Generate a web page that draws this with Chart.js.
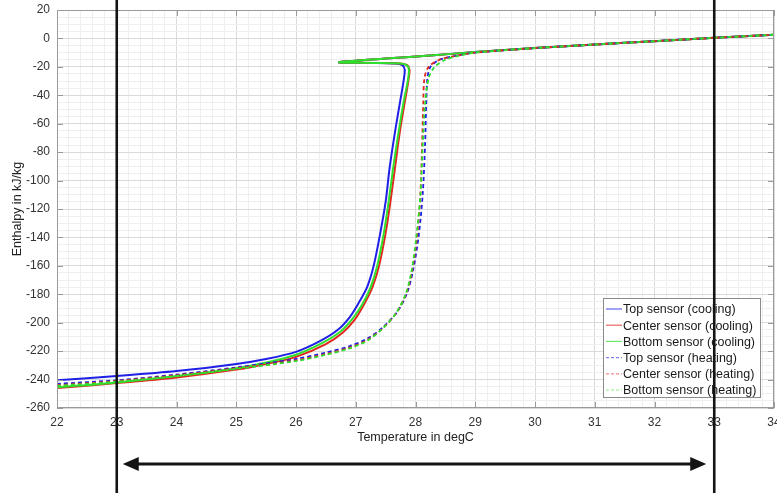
<!DOCTYPE html>
<html>
<head>
<meta charset="utf-8">
<script src="https://cdn.jsdelivr.net/npm/chart.js@4.4.1/dist/chart.umd.min.js"></script>
<style>
  html, body { margin: 0; padding: 0; background: #fff; }
</style>
</head>
<body>
<canvas id="c" width="777" height="493"></canvas>
<script>
/* Enthalpy vs temperature, cooling (solid) and heating (dashed) per sensor */
const xMajor = [22, 23, 24, 25, 26, 27, 28, 29, 30, 31, 32, 33, 34];
const yMajor = [20, 0, -20, -40, -60, -80, -100, -120, -140, -160, -180, -200, -220, -240, -260];
const markerTemps = [23, 33];

const coolTopT = [34, 33, 32, 31, 30, 29, 28.3, 27.5, 26.72, 27.2, 27.65, 27.78, 27.82, 27.8, 27.74, 27.66, 27.57, 27.5, 27.41, 27.3, 27.19, 27.05, 26.9, 26.7, 26.4, 26, 25.5, 25, 24, 23, 22];
const coolTopH = [2.6, 0.4, -1.9, -4.3, -6.8, -9.6, -11.8, -14.2, -16.8, -17.2, -17.6, -18.8, -22, -30, -45, -65, -90, -115, -137, -160, -175, -186, -196, -205, -213, -220.5, -225.5, -229, -234, -237.5, -240.5];

const coolCenterT = [34, 33, 32, 31, 30, 29, 28.3, 27.5, 26.72, 27.3, 27.75, 27.86, 27.9, 27.88, 27.82, 27.74, 27.66, 27.58, 27.5, 27.39, 27.28, 27.14, 26.98, 26.78, 26.5, 26, 25.5, 25, 24, 23, 22];
const coolCenterH = [2.6, 0.4, -1.9, -4.3, -6.8, -9.6, -11.8, -14.2, -16.8, -17.2, -17.6, -18.8, -22, -30, -45, -65, -90, -115, -137, -160, -175, -187, -198, -207, -215, -224, -229, -233, -238.5, -242.5, -246];

const coolBottomT = [34, 33, 32, 31, 30, 29, 28.3, 27.5, 26.72, 27.3, 27.75, 27.85, 27.89, 27.87, 27.8, 27.72, 27.63, 27.55, 27.47, 27.36, 27.25, 27.11, 26.95, 26.75, 26.45, 26, 25.5, 25, 24, 23, 22];
const coolBottomH = [2.6, 0.4, -1.9, -4.3, -6.8, -9.6, -11.8, -14.2, -16.8, -17.2, -17.6, -18.8, -22, -30, -45, -65, -90, -115, -137, -160, -175, -187, -197, -206, -214, -222.5, -228, -232, -237.5, -242, -245.5];

const heatTopT = [22, 23, 24, 25, 26, 26.5, 26.9, 27.2, 27.46, 27.7, 27.86, 27.96, 28.05, 28.12, 28.16, 28.18, 28.2, 28.25, 28.4, 28.65, 29, 30, 31, 32, 33, 34];
const heatTopH = [-243, -240.5, -236.5, -231.5, -225.5, -221, -216.5, -211, -203, -192, -179, -163, -140, -110, -75, -45, -28, -20, -15, -12.5, -10, -6.8, -4.3, -1.9, 0.4, 2.6];

const heatCenterT = [22, 23, 24, 25, 26, 26.5, 26.9, 27.2, 27.45, 27.68, 27.84, 27.94, 28.02, 28.08, 28.11, 28.13, 28.15, 28.22, 28.4, 28.65, 29, 30, 31, 32, 33, 34];
const heatCenterH = [-244, -241, -237, -232, -226.5, -222, -217.5, -212, -204, -193, -180, -164, -141, -111, -76, -46, -28, -20, -15, -12.5, -10, -6.8, -4.3, -1.9, 0.4, 2.6];

const heatBottomT = [22, 23, 24, 25, 26, 26.5, 26.9, 27.2, 27.44, 27.67, 27.83, 27.93, 28.01, 28.08, 28.12, 28.16, 28.22, 28.32, 28.5, 28.7, 29, 30, 31, 32, 33, 34];
const heatBottomH = [-244.5, -241.5, -237.5, -232.5, -227, -222.5, -218, -212.5, -204.5, -193.5, -180.5, -164.5, -141, -111, -76, -46, -28, -20, -15, -12.5, -10, -6.8, -4.3, -1.9, 0.4, 2.6];

const BLUE = '#1f1fe6', RED = '#e0281e', GREEN = '#2ee02e';

const toPoints = (T, H) => T.map((t, i) => ({ x: t, y: H[i] }));
const isMajor = (v, list) => list.some(m => Math.abs(m - v) < 1e-6);

// later entries drawn on top (Chart.js draws lowest order last)
function series(label, T, H, color, dashed, order) {
    return {
        label, data: toPoints(T, H), showLine: true, order,
        borderColor: color, backgroundColor: color,
        borderWidth: dashed ? 1.8 : 2, borderDash: dashed ? [4, 3] : [],
        pointRadius: 0, tension: 0.3, dashed
    };
}

const overlay = {
    id: 'overlay',
    afterDraw(chart) {
        const { ctx, chartArea: a, scales: { x, y } } = chart;
        const seg = (x1, y1, x2, y2) => { ctx.beginPath(); ctx.moveTo(x1, y1); ctx.lineTo(x2, y2); ctx.stroke(); };
        ctx.save();

        // axes box and inside tick marks
        ctx.strokeStyle = '#9a9a9a'; ctx.lineWidth = 1;
        ctx.strokeRect(a.left + 0.5, a.top + 0.5, a.right - a.left - 1, a.bottom - a.top - 1);
        xMajor.forEach(v => {
            const px = Math.round(x.getPixelForValue(v)) + 0.5;
            seg(px, a.bottom, px, a.bottom - 6); seg(px, a.top, px, a.top + 6);
        });
        yMajor.forEach(v => {
            const py = Math.round(y.getPixelForValue(v)) + 0.5;
            seg(a.left, py, a.left + 6, py); seg(a.right, py, a.right - 6, py);
        });

        // legend box, bottom right inside the axes
        const lw = 157, lh = 99;
        const lx = a.right - 14 - lw, ly = a.bottom - 11 - lh;
        ctx.fillStyle = '#fff';
        ctx.fillRect(lx, ly, lw, lh);
        ctx.strokeStyle = '#8a8a8a';
        ctx.strokeRect(lx + 0.5, ly + 0.5, lw, lh);
        ctx.font = '12.5px "Liberation Sans", Arial, sans-serif';
        ctx.textBaseline = 'middle';
        chart.data.datasets.forEach((ds, i) => {
            const ry = ly + 11 + i * 16.2;
            ctx.strokeStyle = ds.borderColor; ctx.lineWidth = 1.2;
            ctx.globalAlpha = ds.dashed ? 0.55 : 0.7;
            ctx.setLineDash(ds.dashed ? [3, 2] : []);
            seg(lx + 3, ry, lx + 19, ry);
            ctx.setLineDash([]); ctx.globalAlpha = 1;
            ctx.fillStyle = '#1a1a1a';
            ctx.fillText(ds.label, lx + 20, ry + 1);
        });

        // black marker lines at 23 and 33 degC with range arrow below
        const [xl, xr] = markerTemps.map(t => x.getPixelForValue(t));
        ctx.strokeStyle = '#141414'; ctx.fillStyle = '#141414'; ctx.lineWidth = 2.6;
        seg(xl, 0, xl, chart.height); seg(xr, 0, xr, chart.height);
        const ay = 464, l = xl + 6, r = xr - 8;
        ctx.lineWidth = 3;
        seg(l + 10, ay, r - 10, ay);
        ctx.beginPath(); ctx.moveTo(l, ay); ctx.lineTo(l + 16, ay - 7); ctx.lineTo(l + 16, ay + 7); ctx.closePath(); ctx.fill();
        ctx.beginPath(); ctx.moveTo(r, ay); ctx.lineTo(r - 16, ay - 7); ctx.lineTo(r - 16, ay + 7); ctx.closePath(); ctx.fill();
        ctx.restore();
    }
};

Chart.defaults.font.family = '"Liberation Sans", Arial, sans-serif';
Chart.defaults.font.size = 12;
Chart.defaults.color = '#333';

new Chart(document.getElementById('c'), {
    type: 'scatter',
    data: {
        datasets: [
            series('Top sensor (cooling)', coolTopT, coolTopH, BLUE, false, 5),
            series('Center sensor (cooling)', coolCenterT, coolCenterH, RED, false, 4),
            series('Bottom sensor (cooling)', coolBottomT, coolBottomH, GREEN, false, 3),
            series('Top sensor (heating)', heatTopT, heatTopH, BLUE, true, 2),
            series('Center sensor (heating)', heatCenterT, heatCenterH, RED, true, 1),
            series('Bottom sensor (heating)', heatBottomT, heatBottomH, GREEN, true, 0)
        ]
    },
    options: {
        responsive: false,
        animation: false,
        layout: { padding: { top: 10, right: 3, bottom: 45, left: 0 } },
        plugins: { legend: { display: false }, tooltip: { enabled: false } },
        scales: {
            x: {
                type: 'linear', min: 22, max: 34,
                ticks: {
                    stepSize: 0.2, autoSkip: false, maxRotation: 0, padding: 7, color: '#333',
                    callback: v => isMajor(v, xMajor) ? String(Math.round(v)) : ''
                },
                grid: { color: c => isMajor(c.tick.value, xMajor) ? '#dadada' : '#efefef', drawTicks: false },
                border: { display: false },
                title: { display: true, text: 'Temperature in degC', color: '#222', font: { size: 12.5 }, padding: { top: 0, bottom: 3 } },
                afterFit(s) { s.height = 40; s.paddingLeft = 0; s.paddingRight = 0; }
            },
            y: {
                type: 'linear', min: -260, max: 20,
                ticks: {
                    stepSize: 5, autoSkip: false, padding: 7, color: '#333',
                    callback: v => isMajor(v, yMajor) ? String(Math.round(v)) : ''
                },
                grid: { color: c => isMajor(c.tick.value, yMajor) ? '#dadada' : '#efefef', drawTicks: false },
                border: { display: false },
                title: { display: true, text: 'Enthalpy in kJ/kg', color: '#222', font: { size: 12.5 }, padding: { top: 10, bottom: 0 } },
                afterFit(s) { s.width = 57; s.paddingTop = 0; s.paddingBottom = 0; }
            }
        }
    },
    plugins: [overlay]
});
</script>
</body>
</html>
